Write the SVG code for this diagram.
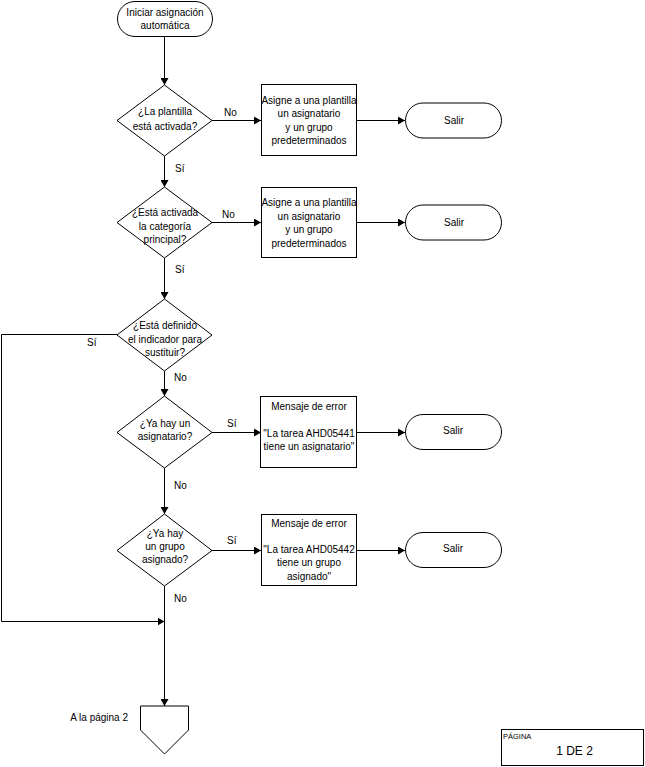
<svg xmlns="http://www.w3.org/2000/svg" width="645" height="767" viewBox="0 0 645 767">
<defs>
<marker id="arr" markerWidth="8" markerHeight="8" refX="7" refY="4" orient="auto" markerUnits="userSpaceOnUse">
<path d="M0,0 L7,4 L0,8 Z" fill="#000"/>
</marker>
</defs>
<style>
.s{fill:#fff;stroke:#000;stroke-width:1}
.c{fill:none;stroke:#000;stroke-width:1}
text{font-family:"Liberation Sans",Arial,sans-serif;font-size:10px;fill:#000}
.m{text-anchor:middle}
</style>
<rect width="645" height="767" fill="#fff"/>
<g id="connectors">
<path class="c" d="M164.5,36 V85" marker-end="url(#arr)"/>
<path class="c" d="M212,120.5 H261" marker-end="url(#arr)"/>
<path class="c" d="M357,120.5 H405" marker-end="url(#arr)"/>
<path class="c" d="M164.5,156 V187" marker-end="url(#arr)"/>
<path class="c" d="M212,222.5 H261" marker-end="url(#arr)"/>
<path class="c" d="M357,222.5 H405" marker-end="url(#arr)"/>
<path class="c" d="M164.5,258 V299" marker-end="url(#arr)"/>
<path class="c" d="M117,334.5 H1.5 V621.5 H164.5" marker-end="url(#arr)"/>
<path class="c" d="M164.5,371 V396" marker-end="url(#arr)"/>
<path class="c" d="M212,432.5 H261" marker-end="url(#arr)"/>
<path class="c" d="M357,432.5 H405" marker-end="url(#arr)"/>
<path class="c" d="M164.5,468 V514" marker-end="url(#arr)"/>
<path class="c" d="M212,550.5 H261" marker-end="url(#arr)"/>
<path class="c" d="M357,550.5 H405" marker-end="url(#arr)"/>
<path class="c" d="M164.5,586 V706" marker-end="url(#arr)"/>
<text x="224" y="115.5">No</text>
<text x="175" y="171.5">Sí</text>
<text x="222" y="217.5">No</text>
<text x="175" y="272.5">Sí</text>
<text x="87" y="346">Sí</text>
<text x="174" y="380.5">No</text>
<text x="227" y="426.5">Sí</text>
<text x="174" y="488.5">No</text>
<text x="227" y="544">Sí</text>
<text x="174" y="601.5">No</text>
</g>
<g id="start">
<rect class="s" x="117.5" y="1.5" width="95" height="35" rx="17.5"/>
<text class="m" x="165" y="16">Iniciar asignación</text>
<text class="m" x="165" y="29">automática</text>
</g>
<g id="d1">
<path class="s" d="M164.5,85 L212,120.5 L164.5,156 L117,120.5 Z"/>
<text class="m" x="165" y="115">¿La plantilla</text>
<text class="m" x="165" y="129.5">está activada?</text>
</g>
<g id="b1">
<rect class="s" x="261.5" y="84.5" width="95" height="71"/>
<text class="m" x="309" y="103.5">Asigne a una plantilla</text>
<text class="m" x="309" y="117">un asignatario</text>
<text class="m" x="309" y="130.5">y un grupo</text>
<text class="m" x="309" y="144">predeterminados</text>
</g>
<g id="e1">
<rect class="s" x="405.5" y="103" width="96" height="35" rx="17.5"/>
<text class="m" x="454" y="124">Salir</text>
</g>
<g id="d2">
<path class="s" d="M164.5,187 L212,222.5 L164.5,258 L117,222.5 Z"/>
<text class="m" x="165" y="216">¿Está activada</text>
<text class="m" x="165" y="229.5">la categoría</text>
<text class="m" x="165" y="243">principal?</text>
</g>
<g id="b2">
<rect class="s" x="261.5" y="187.5" width="95" height="70"/>
<text class="m" x="309" y="206">Asigne a una plantilla</text>
<text class="m" x="309" y="219.5">un asignatario</text>
<text class="m" x="309" y="233">y un grupo</text>
<text class="m" x="309" y="246.5">predeterminados</text>
</g>
<g id="e2">
<rect class="s" x="405.5" y="205" width="96" height="35" rx="17.5"/>
<text class="m" x="454" y="226">Salir</text>
</g>
<g id="d3">
<path class="s" d="M164.5,299 L212,335 L164.5,371 L117,335 Z"/>
<text class="m" x="165" y="329">¿Está definido</text>
<text class="m" x="165" y="343">el indicador para</text>
<text class="m" x="165" y="356">sustituir?</text>
</g>
<g id="d4">
<path class="s" d="M164.5,396 L212,432.5 L164.5,468 L117,432.5 Z"/>
<text class="m" x="165" y="427">¿Ya hay un</text>
<text class="m" x="165" y="440">asignatario?</text>
</g>
<g id="b4">
<rect class="s" x="260.5" y="396.5" width="96" height="71"/>
<text class="m" x="309" y="410">Mensaje de error</text>
<text class="m" x="309" y="436.5">"La tarea AHD05441</text>
<text class="m" x="309" y="449.5">tiene un asignatario"</text>
</g>
<g id="e4">
<rect class="s" x="405.5" y="414.5" width="96" height="35" rx="17.5"/>
<text class="m" x="453" y="433.5">Salir</text>
</g>
<g id="d5">
<path class="s" d="M164.5,514 L212,550.5 L164.5,586 L117,550.5 Z"/>
<text class="m" x="165" y="537">¿Ya hay</text>
<text class="m" x="165" y="550">un grupo</text>
<text class="m" x="165" y="563">asignado?</text>
</g>
<g id="b5">
<rect class="s" x="261.5" y="514.5" width="95" height="71"/>
<text class="m" x="309" y="527">Mensaje de error</text>
<text class="m" x="309" y="553">"La tarea AHD05442</text>
<text class="m" x="309" y="566">tiene un grupo</text>
<text class="m" x="309" y="579.5">asignado"</text>
</g>
<g id="e5">
<rect class="s" x="405.5" y="532.5" width="96" height="35" rx="17.5"/>
<text class="m" x="453" y="552">Salir</text>
</g>
<g id="offpage">
<path class="s" d="M140.5,706 H188.5 V730 L164.5,754 L140.5,730 Z"/>
<text x="128" y="720.5" text-anchor="end">A la página 2</text>
</g>
<g id="page">
<rect class="s" x="501.5" y="729.5" width="142" height="36"/>
<text x="503" y="739" style="font-size:7.5px">PÁGINA</text>
<text class="m" x="574.5" y="755" style="font-size:12px">1 DE 2</text>
</g>
</svg>
